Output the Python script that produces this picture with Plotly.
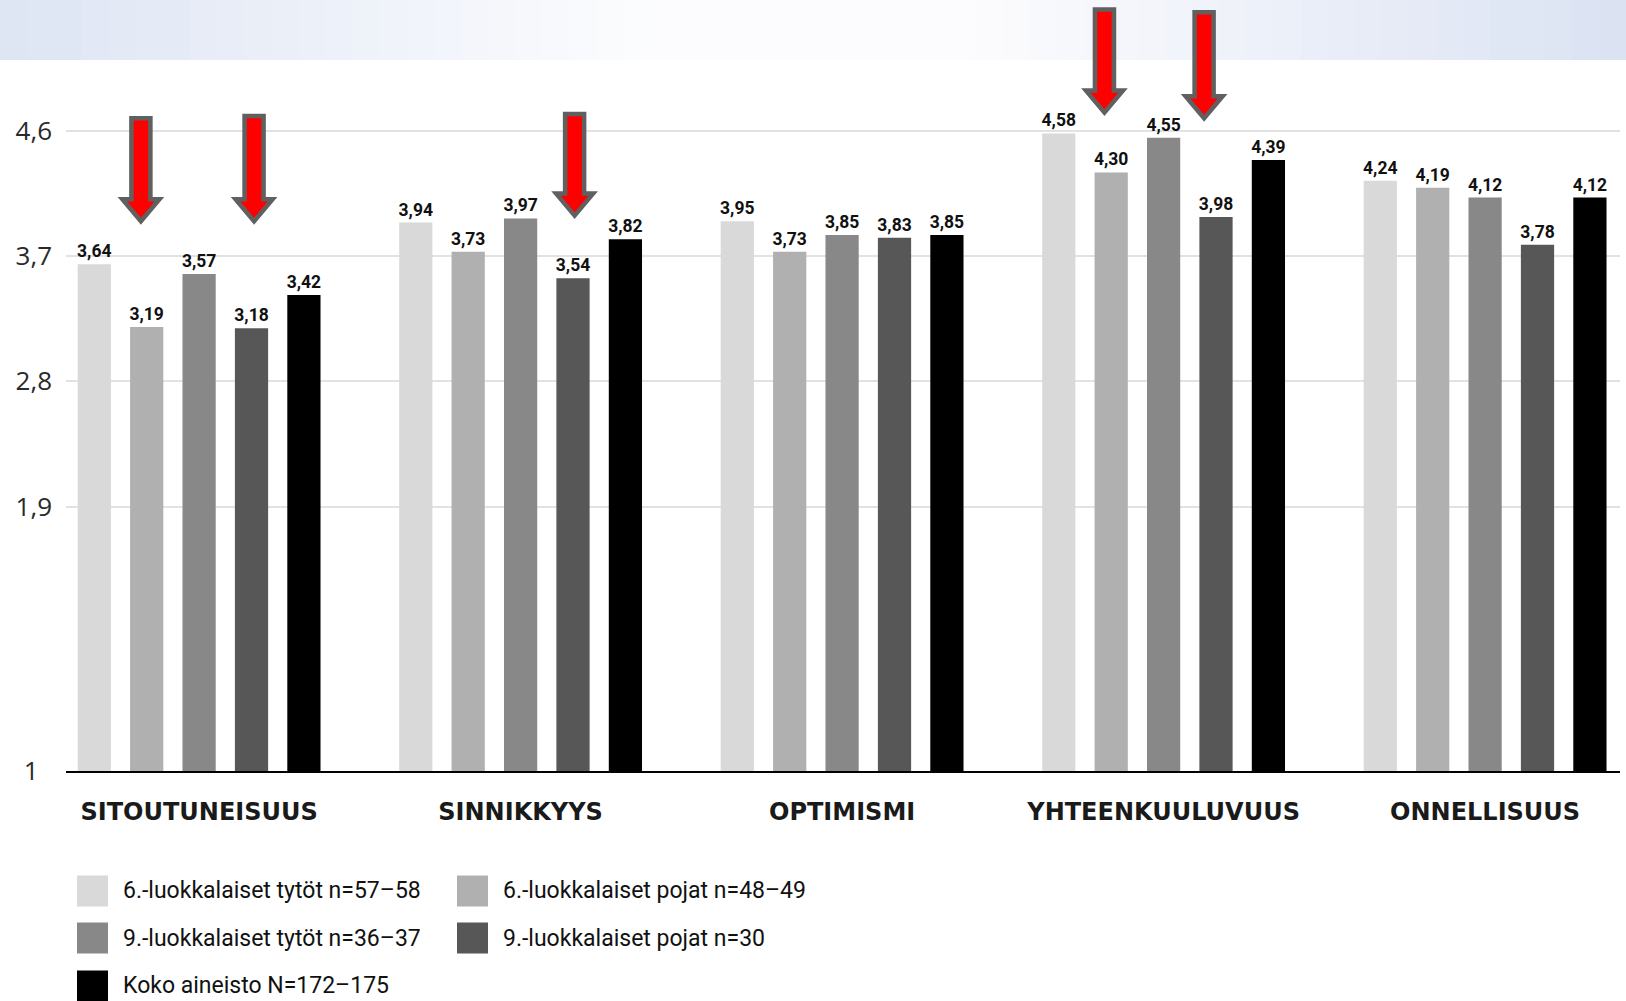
import plotly.graph_objects as go

# ---------------- data ----------------
categories = ["SITOUTUNEISUUS", "SINNIKKYYS", "OPTIMISMI", "YHTEENKUULUVUUS", "ONNELLISUUS"]
series_names = [
    "6.-luokkalaiset tytöt n=57–58",
    "6.-luokkalaiset pojat n=48–49",
    "9.-luokkalaiset tytöt n=36–37",
    "9.-luokkalaiset pojat n=30",
    "Koko aineisto N=172–175",
]
girls_6 = [3.64, 3.94, 3.95, 4.58, 4.24]
boys_6 = [3.19, 3.73, 3.73, 4.30, 4.19]
girls_9 = [3.57, 3.97, 3.85, 4.55, 4.12]
boys_9 = [3.18, 3.54, 3.83, 3.98, 3.78]
total = [3.42, 3.82, 3.85, 4.39, 4.12]
series_values = [girls_6, boys_6, girls_9, boys_9, total]
series_colors = ["#d9d9d9", "#b0b0b0", "#888888", "#575757", "#000000"]

tick_vals = [0, 1.9, 2.8, 3.7, 4.6]
tick_text = ["1\u00a0\u00a0", "1,9", "2,8", "3,7", "4,6"]

# highlighted bars: (category index, series index)
arrow_targets = [(0, 1), (0, 3), (1, 3), (3, 1), (3, 3)]
arrow_tops = [4.69, 4.705, 4.72, 5.47, 5.45]
arrow_tips = [3.95, 3.95, 3.99, 4.73, 4.69]
arrow_nudge = [-0.018, 0.008, 0.005, -0.021, -0.037]

# ---------------- layout geometry ----------------
W, H = 1626, 1001
ML, MR, MT, MB = 66, 6, 0, 230
PW, PH = W - ML - MR, H - MT - MB
X_RANGE = [-0.414, -0.414 + PW / 321.5]
Y_RANGE = [0, PH / 139.2]
BARGAP = 0.185
BARGROUPGAP = 0.366
SLOT = (1 - BARGAP) / len(series_values)

px_x = (X_RANGE[1] - X_RANGE[0]) / PW
px_y = (Y_RANGE[1] - Y_RANGE[0]) / PH


def paper_x(px):
    return (px - ML) / PW


def paper_y(py):
    return (MT + PH - py) / PH


fig = go.Figure()
for name, vals, col in zip(series_names, series_values, series_colors):
    fig.add_trace(go.Bar(
        x=categories, y=vals, name=name, marker=dict(color=col, line=dict(width=0)),
        texttemplate="%{y:.2f}", textposition="outside", constraintext="none",
        cliponaxis=False,
        textfont=dict(family="Roboto, sans-serif", size=17.5, color="#111111", weight="bold"),
        showlegend=False, hoverinfo="skip",
    ))

shapes = []
# top decorative band (horizontal gradient)
n_strips = 60
left_c = (221, 229, 243)
mid_c = (252, 252, 254)
right_c = (218, 226, 242)
for i in range(n_strips):
    t = (i + 0.5) / n_strips
    if t < 0.5:
        u = min(1.0, t / 0.40)
        c = tuple(round(left_c[k] + (mid_c[k] - left_c[k]) * u) for k in range(3))
    else:
        u = min(1.0, (1 - t) / 0.40)
        c = tuple(round(right_c[k] + (mid_c[k] - right_c[k]) * u) for k in range(3))
    x0 = paper_x(W * i / n_strips)
    x1 = paper_x(W * (i + 1) / n_strips + 1)
    shapes.append(dict(type="rect", xref="paper", yref="paper", x0=x0, x1=x1,
                       y0=paper_y(60), y1=paper_y(0), fillcolor="rgb(%d,%d,%d)" % c,
                       line=dict(width=0), layer="below"))

# red arrows
SW, HW, HL = 9.5, 18.5, 22
for (ci, si), yt, yb, nd in zip(arrow_targets, arrow_tops, arrow_tips, arrow_nudge):
    cx = ci + (si - (len(series_values) - 1) / 2) * SLOT + nd
    sw, hw = SW * px_x, HW * px_x
    hl = HL * px_y
    pts = [(cx - sw, yt), (cx + sw, yt), (cx + sw, yb + hl), (cx + hw, yb + hl),
           (cx, yb), (cx - hw, yb + hl), (cx - sw, yb + hl)]
    path = "M " + " L ".join("%.5f,%.5f" % p for p in pts) + " Z"
    shapes.append(dict(type="path", xref="x", yref="y", path=path,
                       fillcolor="#ff0000", line=dict(color="#606060", width=4.5),
                       layer="above"))

# legend (manual, large swatches)
annotations = []
legend_pos = [(77, 891), (457, 891), (77, 938), (457, 938), (77, 986)]
SWATCH = 31
for (lx, ly), name, col in zip(legend_pos, series_names, series_colors):
    shapes.append(dict(type="rect", xref="paper", yref="paper",
                       x0=paper_x(lx), x1=paper_x(lx + SWATCH),
                       y0=paper_y(ly + SWATCH / 2), y1=paper_y(ly - SWATCH / 2),
                       fillcolor=col, line=dict(width=0)))
    annotations.append(dict(xref="paper", yref="paper", x=paper_x(lx + SWATCH + 13),
                            y=paper_y(ly), text=name, showarrow=False,
                            xanchor="left", yanchor="middle",
                            font=dict(family="Roboto, sans-serif", size=23, color="#111111")))

fig.update_layout(
    width=W, height=H,
    margin=dict(l=ML, r=MR, t=MT, b=MB, pad=0, autoexpand=False),
    paper_bgcolor="white", plot_bgcolor="white",
    barmode="group", bargap=BARGAP, bargroupgap=BARGROUPGAP,
    separators=", ",
    shapes=shapes, annotations=annotations,
    xaxis=dict(range=X_RANGE, showgrid=False, showline=True, linecolor="#000000",
               linewidth=2, ticks="", ticklabelstandoff=18, automargin=False,
               tickfont=dict(family="DejaVu Sans, sans-serif", size=24,
                             color="#1a1a1a", weight="bold")),
    yaxis=dict(range=Y_RANGE, tickvals=tick_vals, ticktext=tick_text,
               showgrid=True, gridcolor="#e2e2e2", gridwidth=2, zeroline=False,
               showline=False, ticks="", ticklabelstandoff=13, automargin=False,
               tickfont=dict(family="Open Sans, Noto Sans, sans-serif", size=26,
                             color="#2a2a2a")),
)

fig.write_html(
    "out.html",
    config={"displayModeBar": False},
    post_script="document.body.style.margin='0';document.body.style.overflow='hidden';",
)
